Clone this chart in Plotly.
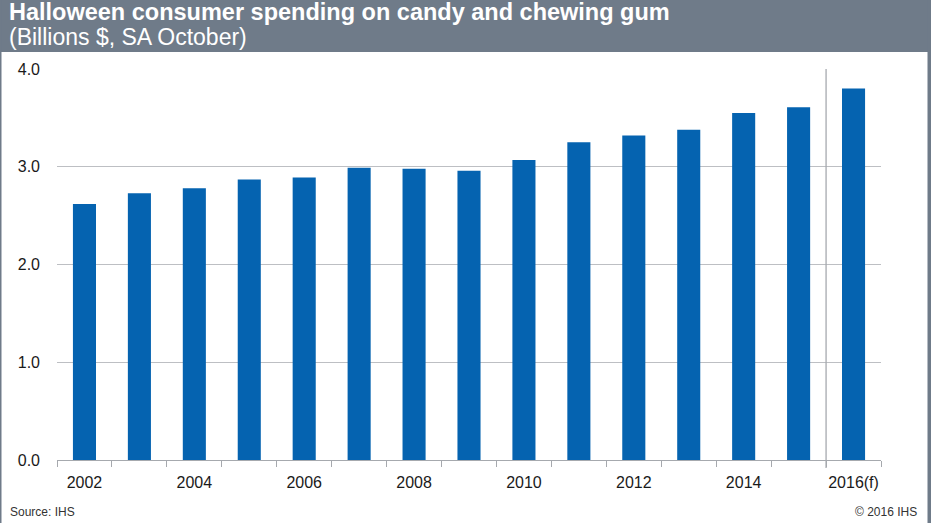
import plotly.graph_objects as go

years = ["2002", "2003", "2004", "2005", "2006", "2007", "2008", "2009",
         "2010", "2011", "2012", "2013", "2014", "2015", "2016(f)"]
spending = [2.62, 2.73, 2.78, 2.87, 2.89, 2.99, 2.98, 2.96,
            3.07, 3.25, 3.32, 3.38, 3.55, 3.61, 3.80]
tick_labels = [y if i % 2 == 0 else "" for i, y in enumerate(years)]
y_ticks = [0, 1, 2, 3, 4]
y_tick_labels = ["0.0", "1.0", "2.0", "3.0", "4.0"]

W, H = 931, 523
ML, MR, MT, MB = 57, 50, 69, 63
pw = W - ML - MR
ph = H - MT - MB

def px_x(p):
    return (p - ML) / pw

def px_y(p):
    return (H - MB - p) / ph

GRAY = "#6F7B89"
FONT = "Liberation Sans, Arial, sans-serif"

fig = go.Figure()
fig.add_trace(go.Bar(
    x=years, y=spending,
    marker=dict(color="#0563B0", line=dict(width=0)),
    width=0.42,
    hoverinfo="x+y",
))

shapes = [
    dict(type="rect", xref="paper", yref="paper",
         x0=px_x(0), x1=px_x(W), y0=px_y(52), y1=px_y(0),
         fillcolor=GRAY, line=dict(width=0), layer="below"),
    dict(type="rect", xref="paper", yref="paper",
         x0=px_x(0), x1=px_x(1.5), y0=px_y(H), y1=px_y(0),
         fillcolor=GRAY, line=dict(width=0), layer="below"),
    dict(type="rect", xref="paper", yref="paper",
         x0=px_x(927.5), x1=px_x(W), y0=px_y(H), y1=px_y(0),
         fillcolor=GRAY, line=dict(width=0), layer="below"),
    dict(type="line", xref="x", yref="paper",
         x0=13.5, x1=13.5, y0=px_y(468), y1=1,
         line=dict(color="#A6A9AE", width=1.3)),
]

annotations = [
    dict(text="<b>Halloween consumer spending on candy and chewing gum</b>",
         xref="paper", yref="paper", x=px_x(7), y=px_y(12),
         xanchor="left", yanchor="middle", showarrow=False,
         font=dict(family=FONT, size=23.5, color="white")),
    dict(text="(Billions $, SA October)",
         xref="paper", yref="paper", x=px_x(7), y=px_y(37),
         xanchor="left", yanchor="middle", showarrow=False,
         font=dict(family=FONT, size=23, color="white")),
    dict(text="Source: IHS",
         xref="paper", yref="paper", x=px_x(8), y=px_y(512),
         xanchor="left", yanchor="middle", showarrow=False,
         font=dict(family=FONT, size=12, color="#333333")),
    dict(text="© 2016 IHS",
         xref="paper", yref="paper", x=px_x(919), y=px_y(512),
         xanchor="right", yanchor="middle", showarrow=False,
         font=dict(family=FONT, size=12, color="#333333")),
]

fig.update_layout(
    width=W, height=H,
    margin=dict(l=ML, r=MR, t=MT, b=MB, pad=0),
    paper_bgcolor="white", plot_bgcolor="white",
    showlegend=False,
    bargap=0.58,
    shapes=shapes,
    annotations=annotations,
    font=dict(family=FONT, size=16, color="#1a1a1a"),
    xaxis=dict(
        type="category",
        tickmode="array", tickvals=years, ticktext=tick_labels,
        tickson="boundaries", ticks="outside", ticklen=6, tickcolor="#A6A9AE",
        tickwidth=1.3, tickangle=0, ticklabelstandoff=8,
        showline=True, linecolor="#A6A9AE", linewidth=1.3,
        showgrid=False, fixedrange=True,
        tickfont=dict(family=FONT, size=16, color="#1a1a1a"),
        range=[-0.5, 14.5],
    ),
    yaxis=dict(
        range=[0, 4.0005],
        tickmode="array", tickvals=y_ticks, ticktext=y_tick_labels,
        showgrid=True, gridcolor="#BDBFC3", gridwidth=1.3,
        zeroline=False, showline=False, ticks="", ticklabelstandoff=16,
        tickfont=dict(family=FONT, size=16, color="#1a1a1a"),
        fixedrange=True,
    ),
)

fig.write_html("out.html", config={"displayModeBar": False},
               post_script="document.body.style.margin='0';document.body.style.overflow='hidden';")
